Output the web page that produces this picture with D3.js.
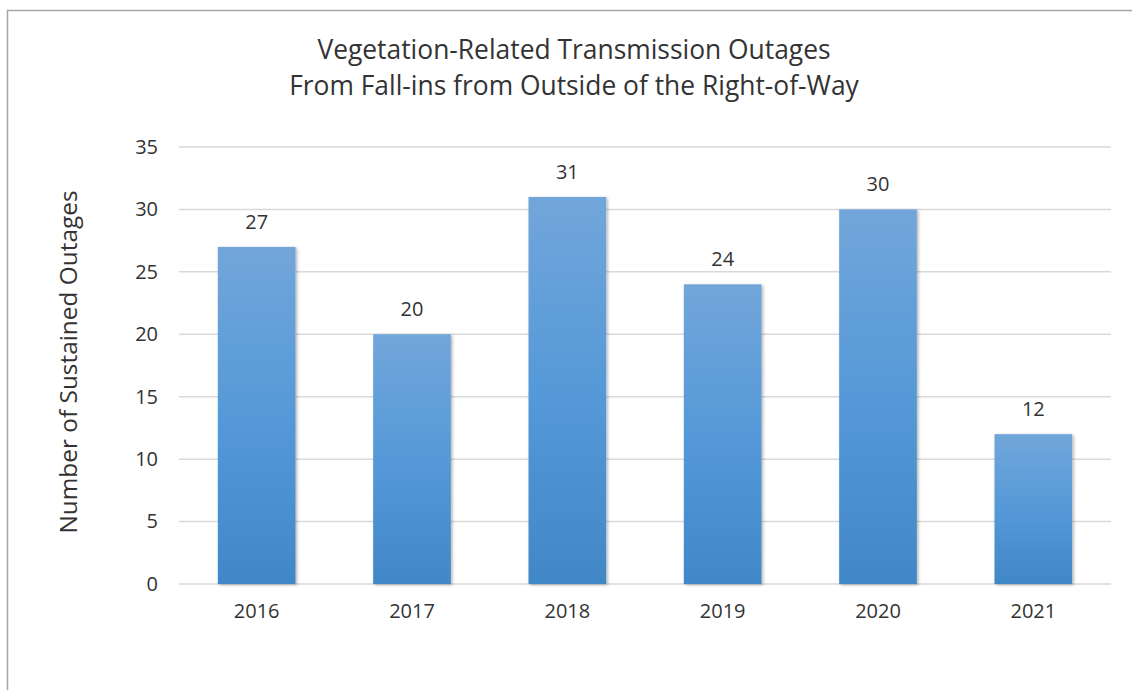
<!DOCTYPE html>
<html>
<head>
<meta charset="utf-8">
<script src="https://cdn.jsdelivr.net/npm/d3@7"></script>
<style>
  body { margin: 0; background: #fff; }
  svg { display: block; font-family: "Open Sans", "Noto Sans", sans-serif; }
</style>
</head>
<body>
<div id="chart"></div>
<script>
// chart data
var years = ["2016", "2017", "2018", "2019", "2020", "2021"];
var outages = [27, 20, 31, 24, 30, 12];
var yTicks = [0, 5, 10, 15, 20, 25, 30, 35];
var titleLines = ["Vegetation-Related Transmission Outages", "From Fall-ins from Outside of the Right-of-Way"];
var yTitle = "Number of Sustained Outages";

var width = 1132, height = 690;
var margins = { left: 179, right: 21, top: 147, bottom: 106 };
var plotW = width - margins.left - margins.right,
    plotH = height - margins.top - margins.bottom;
var textColor = "#333333";

var svg = d3.select("#chart").append("svg")
    .attr("width", width)
    .attr("height", height);

// outer frame
svg.append("rect")
    .attr("x", 7.5).attr("y", 10.5)
    .attr("width", width + 10).attr("height", height + 10)
    .attr("fill", "none")
    .attr("stroke", "#a6a6a6")
    .attr("stroke-width", 1.5);

var defs = svg.append("defs");
var grad = defs.append("linearGradient")
    .attr("id", "barGrad")
    .attr("x1", 0).attr("y1", 0).attr("x2", 0).attr("y2", 1);
grad.append("stop").attr("offset", "0%").attr("stop-color", "#72a6da");
grad.append("stop").attr("offset", "50%").attr("stop-color", "#5599d8");
grad.append("stop").attr("offset", "100%").attr("stop-color", "#4187c7");

var shadow = defs.append("filter").attr("id", "barShadow")
    .attr("x", "-20%").attr("y", "-10%").attr("width", "140%").attr("height", "120%");
shadow.append("feDropShadow")
    .attr("dx", 1.5).attr("dy", 1)
    .attr("stdDeviation", 1.5)
    .attr("flood-color", "#000")
    .attr("flood-opacity", 0.3);

var g = svg.append("g")
    .attr("transform", "translate(" + margins.left + "," + margins.top + ")");

var x = d3.scaleBand().domain(years).range([0, plotW]).paddingInner(0.5).paddingOuter(0.25);
var y = d3.scaleLinear().domain([0, 35]).range([plotH, 0]);

// gridlines
g.append("g")
    .selectAll("line")
    .data(yTicks)
    .join("line")
    .attr("x1", 0).attr("x2", plotW)
    .attr("y1", function(d) { return y(d); })
    .attr("y2", function(d) { return y(d); })
    .attr("stroke", "#d9d9d9")
    .attr("stroke-width", 1.5);

// y axis labels
var yAxis = d3.axisLeft(y).tickValues(yTicks).tickSize(0).tickPadding(21);
g.append("g").call(yAxis)
    .call(function(sel) { sel.select(".domain").remove(); })
    .selectAll("text")
    .attr("font-size", 20)
    .attr("fill", textColor)
    .style("font-family", "\"Open Sans\", sans-serif");

// x axis labels
var xAxis = d3.axisBottom(x).tickSize(0).tickPadding(20);
g.append("g")
    .attr("transform", "translate(0," + plotH + ")")
    .call(xAxis)
    .call(function(sel) { sel.select(".domain").remove(); })
    .selectAll("text")
    .attr("font-size", 20)
    .attr("fill", textColor)
    .style("font-family", "\"Open Sans\", sans-serif");

// bars
g.append("g")
    .selectAll("rect")
    .data(outages)
    .join("rect")
    .attr("x", function(d, i) { return x(years[i]); })
    .attr("y", function(d) { return y(d); })
    .attr("width", x.bandwidth())
    .attr("height", function(d) { return plotH - y(d); })
    .attr("fill", "url(#barGrad)")
    .attr("filter", "url(#barShadow)");

// value labels
g.append("g")
    .selectAll("text")
    .data(outages)
    .join("text")
    .attr("x", function(d, i) { return x(years[i]) + x.bandwidth() / 2; })
    .attr("y", function(d) { return y(d) - 18; })
    .attr("text-anchor", "middle")
    .attr("font-size", 20)
    .attr("fill", textColor)
    .text(function(d) { return d; });

// title
svg.append("g")
    .selectAll("text")
    .data(titleLines)
    .join("text")
    .attr("x", 574)
    .attr("y", function(d, i) { return 59 + i * 36; })
    .attr("text-anchor", "middle")
    .attr("font-size", 26.4)
    .attr("fill", textColor)
    .text(function(d) { return d; });

// y axis title
svg.append("text")
    .attr("transform", "translate(77," + 362 + ") rotate(-90)")
    .attr("text-anchor", "middle")
    .attr("font-size", 24.4)
    .attr("fill", textColor)
    .text(yTitle);
</script>
</body>
</html>
